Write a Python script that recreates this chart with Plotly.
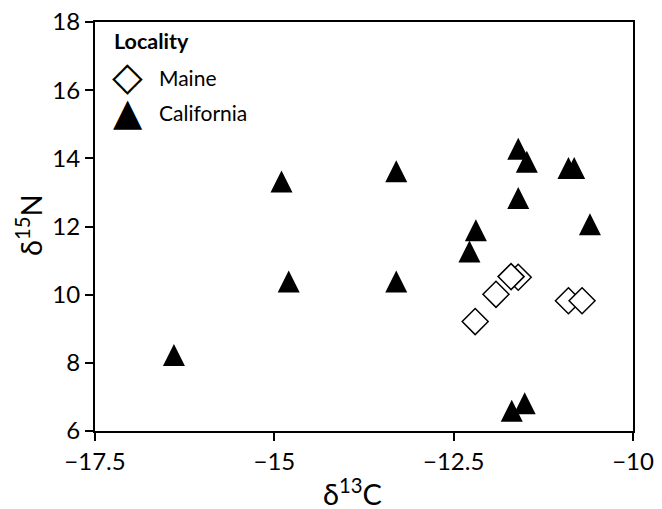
import plotly.graph_objects as go

# ---- data ----
maine_d13c = [-11.60, -11.70, -11.91, -12.20, -10.90, -10.71]
maine_d15n = [10.51, 10.53, 10.01, 9.21, 9.82, 9.82]

cal_d13c = [-16.40, -14.80, -14.90, -13.30, -11.60, -11.48, -10.90, -10.82,
            -11.60, -10.60, -12.19, -12.28, -13.30, -11.69, -11.51]
cal_d15n = [8.12, 10.28, 13.21, 13.51, 14.17, 13.79, 13.61, 13.61,
            12.73, 11.96, 11.78, 11.16, 10.28, 6.49, 6.71]

x_tickvals = [-17.5, -15, -12.5, -10]
x_ticktext = ["\u221217.5", "\u221215", "\u221212.5", "\u221210"]
y_tickvals = [6, 8, 10, 12, 14, 16, 18]
y_ticktext = ["6", "8", "10", "12", "14", "16", "18"]

legend_title = "Locality"
series_names = ["Maine", "California"]

FONT = "Lato"
W, H = 662, 509
ML, MR, MT, MB = 95, 29, 22, 78
PW, PH = W - ML - MR, H - MT - MB


def px_x(px):
    return (px - ML) / PW


def px_y(py):
    return (H - MB - py) / PH


tri_size = 22

fig = go.Figure()
fig.add_trace(go.Scatter(
    x=maine_d13c, y=maine_d15n, mode="markers", name=series_names[0],
    marker=dict(symbol="diamond", size=20, color="white",
                line=dict(color="black", width=1.5)),
    showlegend=False, cliponaxis=False))
fig.add_trace(go.Scatter(
    x=cal_d13c, y=cal_d15n, mode="markers", name=series_names[1],
    marker=dict(symbol="arrow-down", angle=180, standoff=tri_size * 2 / 3,
                size=tri_size, color="black", line=dict(width=0)),
    showlegend=False, cliponaxis=False))

axis_common = dict(
    showline=True, linecolor="black", linewidth=2, mirror=True,
    ticks="outside", ticklen=8, tickwidth=1.5, tickcolor="black",
    showgrid=False, zeroline=False, automargin=False,
    tickfont=dict(family=FONT, size=24, color="black"),
)

fig.update_layout(
    width=W, height=H,
    margin=dict(l=ML, r=MR, t=MT, b=MB, autoexpand=False),
    paper_bgcolor="white", plot_bgcolor="white",
    showlegend=False,
    xaxis=dict(range=[-17.5, -10], tickmode="array", tickvals=x_tickvals,
               ticktext=x_ticktext, **axis_common),
    yaxis=dict(range=[6, 18], tickmode="array", tickvals=y_tickvals,
               ticktext=y_ticktext, **axis_common),
    font=dict(family=FONT, color="black"),
)

ann = []
# axis titles
ann.append(dict(text="\u03b4<sup>13</sup>C", x=px_x(352), y=px_y(492),
                xref="paper", yref="paper", xanchor="center", yanchor="middle",
                showarrow=False, font=dict(family=FONT, size=29, color="black")))
ann.append(dict(text="\u03b4<sup>15</sup>N", x=px_x(29), y=px_y(225),
                xref="paper", yref="paper", xanchor="center", yanchor="middle",
                textangle=-90, showarrow=False,
                font=dict(family=FONT, size=29, color="black")))
# legend
ann.append(dict(text="<b>" + legend_title + "</b>", x=px_x(112), y=px_y(41),
                xref="paper", yref="paper", xanchor="left", yanchor="middle",
                showarrow=False, font=dict(family=FONT, size=21.5, color="black")))
ann.append(dict(text="\u25c7", x=px_x(127.5), y=px_y(76),
                xref="paper", yref="paper", xanchor="center", yanchor="middle",
                showarrow=False, font=dict(family="DejaVu Sans", size=40, color="black")))
ann.append(dict(text=series_names[0], x=px_x(157), y=px_y(78),
                xref="paper", yref="paper", xanchor="left", yanchor="middle",
                showarrow=False, font=dict(family=FONT, size=21, color="black")))
ann.append(dict(text="\u25b2", x=px_x(127.5), y=px_y(112),
                xref="paper", yref="paper", xanchor="center", yanchor="middle",
                showarrow=False, font=dict(family="DejaVu Sans", size=38, color="black")))
ann.append(dict(text=series_names[1], x=px_x(157), y=px_y(112),
                xref="paper", yref="paper", xanchor="left", yanchor="middle",
                showarrow=False, font=dict(family=FONT, size=21, color="black")))
fig.update_layout(annotations=ann)

fig.write_html(
    "out.html",
    config={"displayModeBar": False},
    post_script="document.body.style.margin='0';document.body.style.padding='0';",
)
